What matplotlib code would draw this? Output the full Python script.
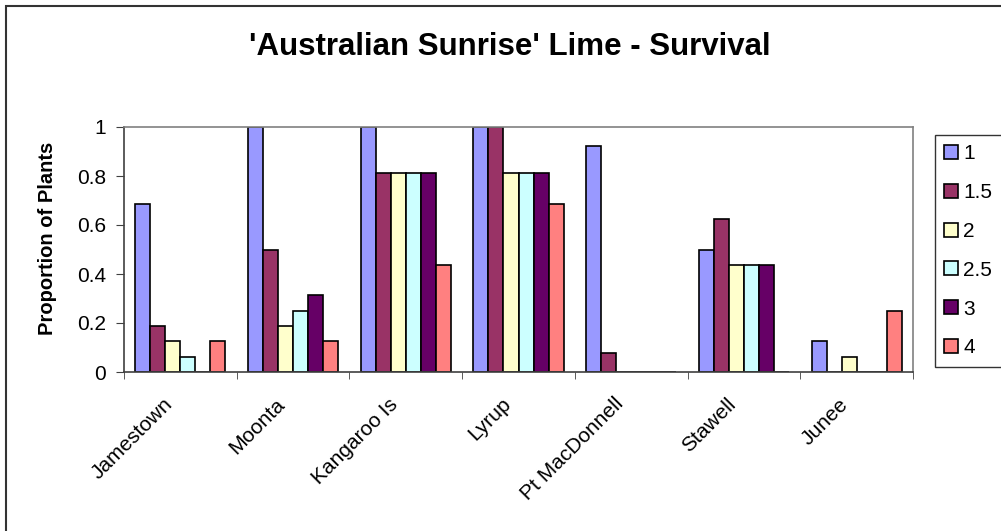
import numpy as np
import matplotlib.pyplot as plt
from matplotlib.patches import Rectangle
from matplotlib.transforms import ScaledTranslation

plt.rcParams['font.family'] = ['Liberation Sans', 'DejaVu Sans']

sites = ['Jamestown', 'Moonta', 'Kangaroo Is', 'Lyrup', 'Pt MacDonnell', 'Stawell', 'Junee']
series = ['1', '1.5', '2', '2.5', '3', '4']
s1 = [0.6875, 1.0, 1.0, 1.0, 0.923, 0.5, 0.125]
s15 = [0.1875, 0.5, 0.8125, 1.0, 0.077, 0.625, 0.0]
s2 = [0.125, 0.1875, 0.8125, 0.8125, 0.0, 0.4375, 0.0625]
s25 = [0.0625, 0.25, 0.8125, 0.8125, 0.0, 0.4375, 0.0]
s3 = [0.0, 0.3125, 0.8125, 0.8125, 0.0, 0.4375, 0.0]
s4 = [0.125, 0.125, 0.4375, 0.6875, 0.0, 0.0, 0.25]
colors = ['#9999FF', '#993366', '#FFFFCC', '#CCFFFF', '#660066', '#FF8080']

fig = plt.figure(figsize=(10.01, 5.31), dpi=100)
W, H = 1001, 531
ax = fig.add_axes([124 / W, 1 - 372 / H, (913 - 124) / W, (372 - 127) / H])

x = np.arange(len(sites))
bw = 0.8 / 6
for i, (vals, lab, c) in enumerate(zip([s1, s15, s2, s25, s3, s4], series, colors)):
    ax.bar(x - 0.4 + bw * (i + 0.5), vals, bw, color=c, edgecolor='black',
           linewidth=1.2, label=lab)

ax.set_xlim(-0.5, len(sites) - 0.5)
ax.set_ylim(0, 1)
ax.set_yticks(np.arange(0, 1.01, 0.2))
ax.set_yticklabels(['0', '0.2', '0.4', '0.6', '0.8', '1'], fontsize=15)
ax.set_xticks(x)
ax.set_xticklabels(sites, rotation=45, ha='right', va='center',
                   rotation_mode='anchor', fontsize=15)
ax.tick_params(axis='x', which='major', length=0, pad=21)
shift = ScaledTranslation(-11 / 100, 0, fig.dpi_scale_trans)
for t in ax.get_xticklabels():
    t.set_transform(t.get_transform() + shift)
ax.set_xticks(np.arange(-0.5, len(sites)), minor=True)
ax.tick_params(axis='x', which='minor', length=5, direction='out', color='#404040')
ax.tick_params(axis='y', length=6, direction='out', color='#404040', pad=7)
ax.spines['top'].set_color('#808080')
ax.spines['right'].set_color('#808080')
ax.spines['left'].set_color('#404040')
ax.spines['bottom'].set_color('#404040')
for s in ax.spines.values():
    s.set_linewidth(1.2)

fig.text(48 / W, 1 - 238 / H, 'Proportion of Plants', rotation=90, ha='center',
         va='center', fontsize=14.5, fontweight='bold')
fig.text(510 / W, 1 - 47 / H, "'Australian Sunrise' Lime - Survival", ha='center',
         va='center', fontsize=22.5, fontweight='bold')

leg = fig.legend(loc='upper left', bbox_to_anchor=(935 / W, 1 - 135 / H),
                 fontsize=15, frameon=True, fancybox=False, edgecolor='black',
                 handlelength=0.65, handleheight=0.65, handletextpad=0.25,
                 labelspacing=0.95, borderpad=0.45, borderaxespad=0)
leg.get_frame().set_linewidth(1.0)

fig.patches.append(Rectangle((6 / W, -0.1), 1.2, 1 - 6 / H + 0.1, transform=fig.transFigure,
                             fill=False, edgecolor='#333333', linewidth=1.5))

fig.savefig('out.png', dpi=100)
